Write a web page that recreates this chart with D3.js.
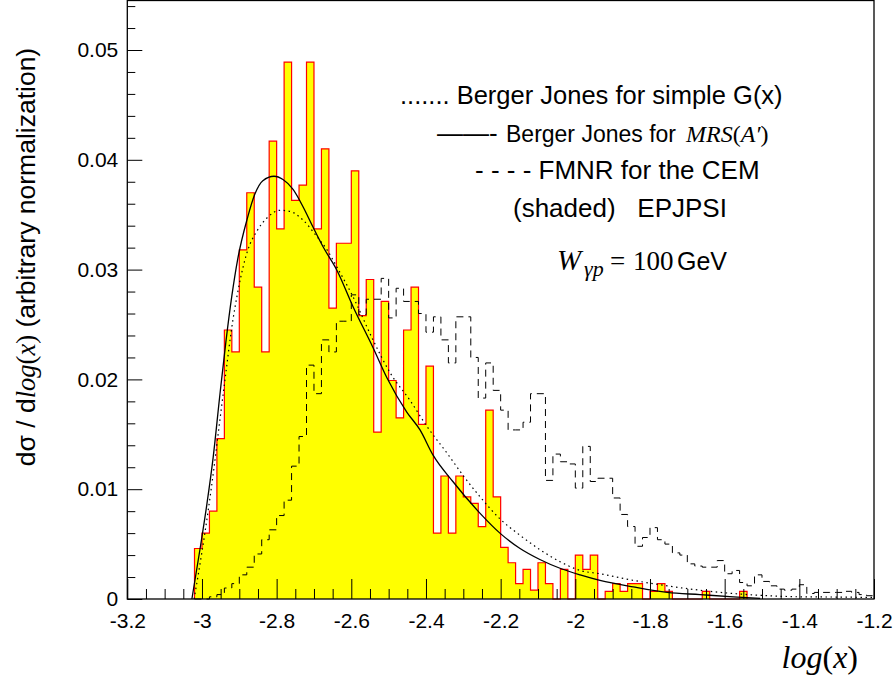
<!DOCTYPE html>
<html>
<head>
<meta charset="utf-8">
<script src="https://cdn.jsdelivr.net/npm/d3@7/dist/d3.min.js"></script>
<style>
  body { margin: 0; background: #fff; }
  svg { font-family: "Liberation Sans", Arial, Helvetica, sans-serif; }
</style>
</head>
<body>
<div id="chart-area"></div>
<script>
// histogram binning in log(x)
var binStart = -3.02;
var binWidth = 0.02;

// EPJPSI (shaded histogram), one value per bin
var epjpsi = [
  0.0046, 0.0060, 0.0080, 0.0146, 0.0245, 0.0225, 0.0318, 0.0370, 0.0284, 0.0225,
  0.0417, 0.0337, 0.0489, 0.0363, 0.0377, 0.0489, 0.0337, 0.0410, 0.0265, 0.0324,
  0.0324, 0.0390, 0.0258, 0.0291, 0.0152, 0.0271, 0.0199, 0.0165, 0.0245, 0.0284,
  0.0159, 0.0212, 0.0060, 0.0112, 0.0060, 0.0112, 0.0093, 0.0087, 0.0066, 0.0172,
  0.0093, 0.0047, 0.0033, 0.0014, 0.0027, 0.0008, 0.0033, 0.0014, 0, 0.0027,
  0, 0.0040, 0.0027, 0.0040, 0, 0.0007, 0.0014, 0.0007, 0.0014, 0.0014,
  0, 0.0007, 0.0014, 0.0007, 0, 0, 0, 0, 0.0007, 0,
  0, 0, 0, 0.0007
];

// FMNR for the CEM (dashed histogram)
var fmnr = [
  0, 0, 0.0002, 0.0004, 0.0010, 0.0014, 0.0022, 0.0029, 0.0041, 0.0054,
  0.0063, 0.0076, 0.0090, 0.0121, 0.0148, 0.0213, 0.0187, 0.0236, 0.0225, 0.0253,
  0.0253, 0.0277, 0.0259, 0.0273, 0.0273, 0.0292, 0.0256, 0.0283, 0.0271, 0.0271,
  0.0260, 0.0243, 0.0257, 0.0236, 0.0215, 0.0257, 0.0257, 0.0220, 0.0183, 0.0215,
  0.0190, 0.0172, 0.0154, 0.0154, 0.0161, 0.0187, 0.0187, 0.0108, 0.0132, 0.0125,
  0.0123, 0.0101, 0.0139, 0.0107, 0.0110, 0.0110, 0.0092, 0.0077, 0.0066, 0.0048,
  0.0056, 0.0065, 0.0054, 0.0050, 0.0042, 0.0040, 0.0032, 0.0030, 0.0029, 0.0029,
  0.0035, 0.0023, 0.0026, 0.0015, 0.0012, 0.0022, 0.0016, 0.0012, 0.0009, 0.0008,
  0.0009, 0.0013, 0.0005, 0.0006, 0.0006, 0.0006, 0.0006, 0.0007, 0.0006, 0.0004,
  0.0003
];

// Berger Jones for MRS(A') (solid curve)
var mrsX = [-3.027, -3.005, -2.987, -2.970, -2.952, -2.936, -2.920, -2.904, -2.879, -2.858,
  -2.837, -2.807, -2.783, -2.756, -2.729, -2.703, -2.676, -2.638, -2.595, -2.542,
  -2.504, -2.451, -2.416, -2.381, -2.328, -2.255, -2.202, -2.148, -2.095, -2.041,
  -1.987, -1.934, -1.845, -1.754, -1.666, -1.577, -1.505];
var mrsY = [0, 0.0046, 0.0086, 0.0129, 0.0186, 0.0234, 0.0276, 0.0310, 0.0346, 0.0369,
  0.0381, 0.0385, 0.0382, 0.0373, 0.0357, 0.0339, 0.0321, 0.0299, 0.0266, 0.0229,
  0.0201, 0.0170, 0.0154, 0.0131, 0.0107, 0.0078, 0.0060, 0.0046, 0.0036, 0.0028,
  0.0022, 0.0017, 0.0011, 0.0006, 0.0004, 0.0002, 0.00005];

// Berger Jones for simple G(x) (dotted curve)
var simpleX = [-3.021, -3.000, -2.984, -2.968, -2.952, -2.936, -2.922, -2.901, -2.877, -2.853,
  -2.826, -2.791, -2.764, -2.729, -2.692, -2.665, -2.638, -2.595, -2.542, -2.496,
  -2.443, -2.397, -2.344, -2.295, -2.255, -2.202, -2.148, -2.095, -2.041, -1.987,
  -1.934, -1.845, -1.754, -1.666, -1.577, -1.486, -1.398, -1.310, -1.200];
var simpleY = [0, 0.0043, 0.0079, 0.0119, 0.0163, 0.0206, 0.0243, 0.0285, 0.0318, 0.0335,
  0.0347, 0.0354, 0.0353, 0.0345, 0.0330, 0.0318, 0.0302, 0.0275, 0.0236, 0.0206,
  0.0181, 0.0157, 0.0133, 0.0110, 0.0093, 0.0073, 0.0058, 0.0045, 0.0034, 0.0026,
  0.0023, 0.0017, 0.0012, 0.0008, 0.0005, 0.0003, 0.0002, 0.00018, 0.00014];

var xTicks = [-3.2, -3, -2.8, -2.6, -2.4, -2.2, -2, -1.8, -1.6, -1.4, -1.2];
var yTicks = [0, 0.01, 0.02, 0.03, 0.04, 0.05];

var W = 893, H = 686;
var serif = "Liberation Serif, Times New Roman, serif";
var svg = d3.select("#chart-area").append("svg")
  .attr("width", W)
  .attr("height", H);

svg.append("rect").attr("width", W).attr("height", H).attr("fill", "#fff");

var x = d3.scaleLinear().domain([-3.2, -1.2]).range([127.3, 874]);
var y = d3.scaleLinear().domain([0, 0.05]).range([599, 50]);
var yTop = 0.5;

// step points for a histogram
function steps(vals) {
  var pts = [[binStart, 0]];
  vals.forEach(function(v, i) {
    var x0 = binStart + i * binWidth;
    pts.push([x0, v]);
    pts.push([x0 + binWidth, v]);
  });
  pts.push([binStart + vals.length * binWidth, 0]);
  return pts;
}

var stepLine = d3.line()
  .x(function(d) { return x(d[0]); })
  .y(function(d) { return y(d[1]); });

var stepArea = d3.area()
  .x(function(d) { return x(d[0]); })
  .y0(y(0))
  .y1(function(d) { return y(d[1]); });

// shaded EPJPSI
var ep = steps(epjpsi);
svg.append("path")
  .attr("d", stepArea(ep))
  .attr("fill", "#ffff00");
svg.append("path")
  .attr("d", stepLine(ep))
  .attr("fill", "none")
  .attr("stroke", "#ff0000")
  .attr("stroke-width", 1.2);

// dashed FMNR
svg.append("path")
  .attr("d", stepLine(steps(fmnr)))
  .attr("fill", "none")
  .attr("stroke", "#000")
  .attr("stroke-width", 1)
  .attr("stroke-dasharray", "7,5");

// curves
var curveLine = d3.line()
  .x(function(d) { return x(d[0]); })
  .y(function(d) { return y(d[1]); })
  .curve(d3.curveMonotoneX);

svg.append("path")
  .attr("d", curveLine(d3.zip(simpleX, simpleY)))
  .attr("fill", "none")
  .attr("stroke", "#000")
  .attr("stroke-width", 1.2)
  .attr("stroke-dasharray", "1.5,3.5");

svg.append("path")
  .attr("d", curveLine(d3.zip(mrsX, mrsY)))
  .attr("fill", "none")
  .attr("stroke", "#000")
  .attr("stroke-width", 1.3);

// axes
var xAxisCall = d3.axisBottom(x)
  .tickValues(xTicks)
  .tickSizeInner(-20)
  .tickSizeOuter(0)
  .tickPadding(14)
  .tickFormat(function(d) { return String(+d.toFixed(1)); });
var xMinor = d3.axisBottom(x)
  .tickValues(d3.range(-3.15, -1.2, 0.05).filter(function(v) {
    return Math.abs(v * 5 - Math.round(v * 5)) > 0.01;
  }))
  .tickSizeInner(-10)
  .tickSizeOuter(0)
  .tickFormat("");

svg.append("g")
  .attr("class", "x axis")
  .attr("transform", "translate(0," + y(0) + ")")
  .call(xAxisCall);
svg.append("g")
  .attr("transform", "translate(0," + y(0) + ")")
  .call(xMinor);

var yAxisCall = d3.axisLeft(y)
  .tickValues(yTicks)
  .tickSizeInner(-15)
  .tickSizeOuter(0)
  .tickPadding(9)
  .tickFormat(function(d) { return d === 0 ? "0" : d3.format(".2f")(d); });
var yMinor = d3.axisLeft(y)
  .tickValues(d3.range(0.002, 0.0545, 0.002).filter(function(v) {
    return Math.abs(v * 100 - Math.round(v * 100)) > 0.01;
  }))
  .tickSizeInner(-8)
  .tickSizeOuter(0)
  .tickFormat("");

svg.append("g")
  .attr("class", "y axis")
  .attr("transform", "translate(" + x(-3.2) + ",0)")
  .call(yAxisCall);
svg.append("g")
  .attr("transform", "translate(" + x(-3.2) + ",0)")
  .call(yMinor);

svg.selectAll(".domain").remove();
svg.selectAll(".tick line").attr("stroke", "#000").attr("stroke-width", 1);
svg.selectAll(".x.axis text").attr("font-size", "21px").attr("fill", "#000")
  .attr("font-family", "Liberation Sans, Arial, sans-serif");
svg.selectAll(".y.axis text").attr("font-size", "21px").attr("fill", "#000")
  .attr("font-family", "Liberation Sans, Arial, sans-serif");

// frame
svg.append("rect")
  .attr("x", x(-3.2))
  .attr("y", yTop)
  .attr("width", x(-1.2) - x(-3.2))
  .attr("height", y(0) - yTop)
  .attr("fill", "none")
  .attr("stroke", "#000")
  .attr("stroke-width", 1.3);

// axis titles
var xt = svg.append("text")
  .attr("x", 858)
  .attr("y", 668)
  .attr("text-anchor", "end")
  .attr("font-family", serif)
  .attr("font-size", "32px");
xt.append("tspan").attr("font-style", "italic").text("log");
xt.append("tspan").text("(");
xt.append("tspan").attr("font-style", "italic").text("x");
xt.append("tspan").text(")");

var yt = svg.append("text")
  .attr("transform", "translate(35,257) rotate(-90)")
  .attr("text-anchor", "middle")
  .attr("font-size", "26.5px");
yt.append("tspan").text("d\u03c3 / d");
yt.append("tspan").attr("font-family", serif).attr("font-style", "italic").text("log");
yt.append("tspan").attr("font-family", serif).text("(");
yt.append("tspan").attr("font-family", serif).attr("font-style", "italic").text("x");
yt.append("tspan").attr("font-family", serif).text(")");
yt.append("tspan").text(" (arbitrary normalization)");

// legend
svg.append("text")
  .attr("x", 400).attr("y", 104)
  .attr("font-size", "25.5px")
  .text("....... Berger Jones for simple G(x)");

var l2 = svg.append("text")
  .attr("y", 142);
l2.append("tspan").attr("x", 437).attr("font-size", "26px").text("\u2014\u2014-");
l2.append("tspan").attr("x", 506).attr("font-size", "23px").text("Berger Jones for");
l2.append("tspan").attr("x", 686).attr("font-family", serif).attr("font-size", "24px")
  .attr("font-style", "italic").text("MRS");
l2.append("tspan").attr("font-family", serif).attr("font-size", "24px").text("(");
l2.append("tspan").attr("font-family", serif).attr("font-size", "24px")
  .attr("font-style", "italic").text("A\u2032");
l2.append("tspan").attr("font-family", serif).attr("font-size", "24px").text(")");

svg.append("text")
  .attr("x", 475).attr("y", 179)
  .attr("font-size", "26px")
  .text("- - - - FMNR for the CEM");

svg.append("text")
  .attr("x", 513).attr("y", 217)
  .attr("font-size", "26px")
  .style("white-space", "pre")
  .text("(shaded)   EPJPSI");

var l5 = svg.append("text")
  .attr("y", 270);
l5.append("tspan").attr("x", 557).attr("font-family", serif)
  .attr("font-style", "italic").attr("font-size", "29px").text("W");
l5.append("tspan").attr("x", 584).attr("font-family", serif)
  .attr("font-style", "italic").attr("font-size", "22px").attr("dy", 6).text("\u03b3p");
l5.append("tspan").attr("x", 610).attr("font-family", serif)
  .attr("font-size", "27px").attr("dy", -6).text("=");
l5.append("tspan").attr("x", 633).attr("font-family", serif)
  .attr("font-size", "27px").text("100");
l5.append("tspan").attr("x", 677).attr("font-size", "25px").text("GeV");
</script>
</body>
</html>
